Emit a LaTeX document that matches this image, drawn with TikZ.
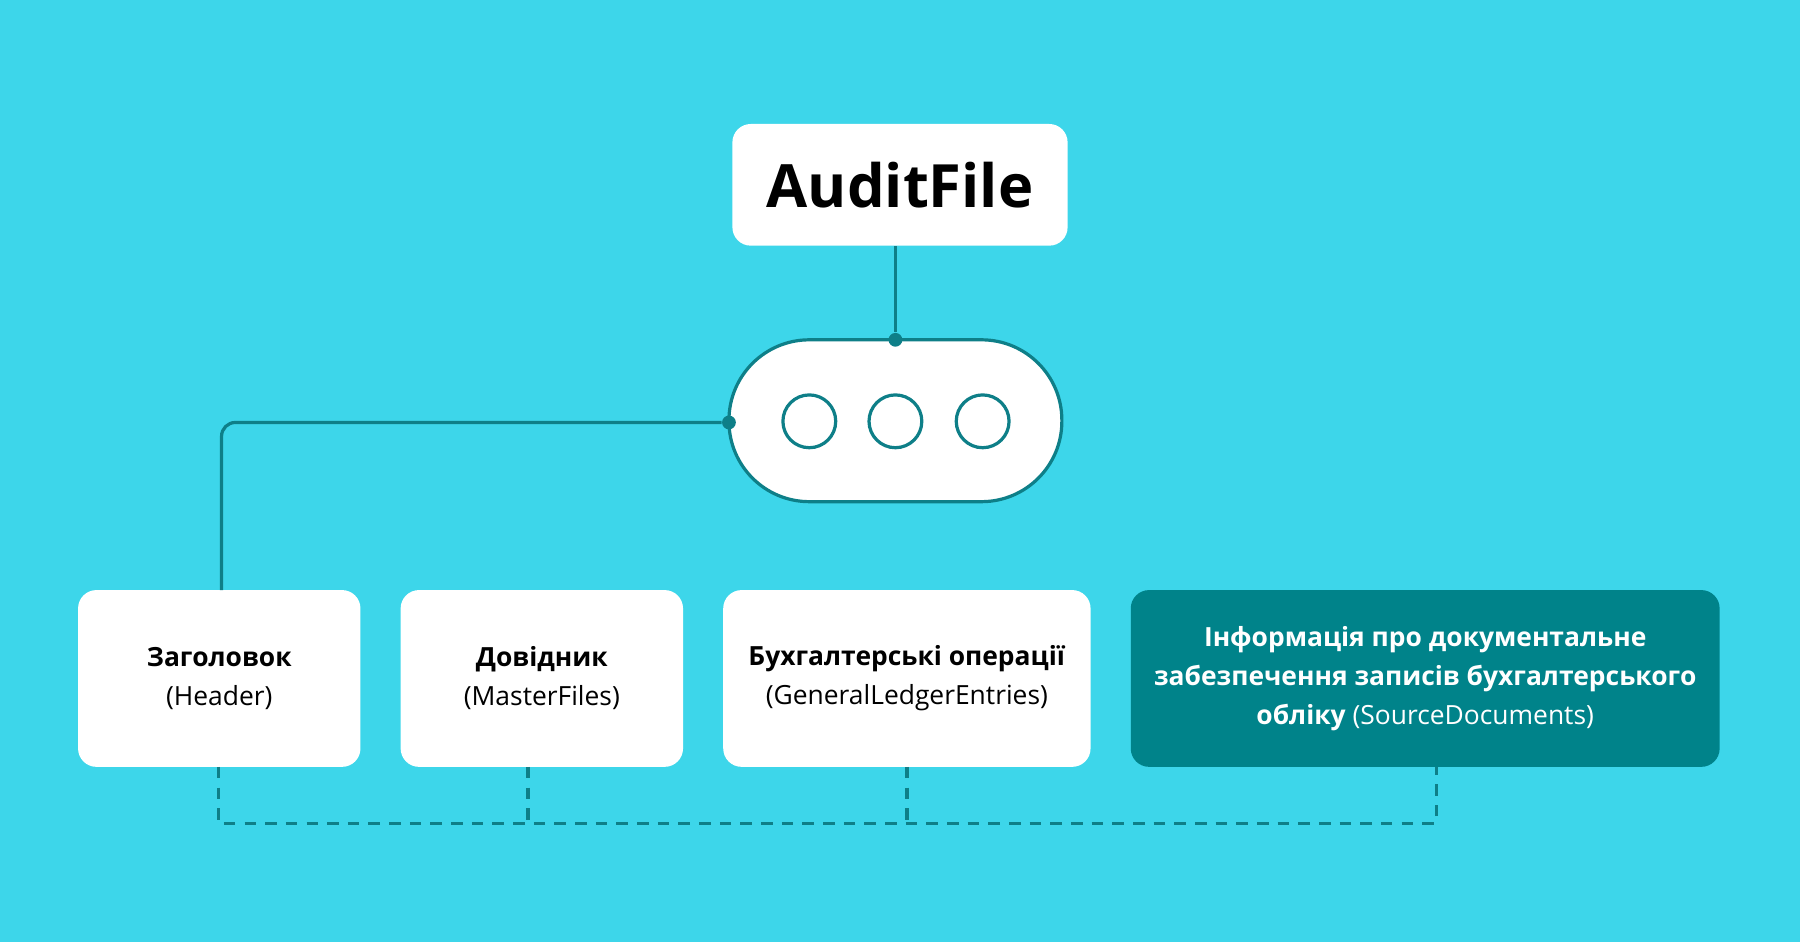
\documentclass[tikz,border=0pt]{standalone}
\usepackage{fontspec}
\setmainfont{Open Sans}
\definecolor{bg}{HTML}{3DD6EA}
\definecolor{teal}{HTML}{0E7F88}
\definecolor{tealbox}{HTML}{00838A}
\begin{document}
\begin{tikzpicture}[x=0.5pt,y=-0.5pt,
  box/.style={draw=none,fill=white,rounded corners=8pt,inner sep=0pt,align=center,font=\fontsize{11.5}{17}\selectfont},
  conn/.style={draw=teal,line width=1.4pt},
  dashed conn/.style={draw=teal,line width=1.4pt,dash pattern=on 5pt off 4pt},
  dot/.style={circle,fill=teal,inner sep=0pt,minimum size=6pt}]
\fill[bg] (0,0) rectangle (1568,821);
\useasboundingbox (0,0) rectangle (1568,821);
\node[box,minimum width=146pt,minimum height=53pt,font=\fontsize{26}{30}\selectfont\bfseries] (audit) at (784,161) {AuditFile};
\node[draw=teal,line width=1.4pt,fill=white,rounded corners=35pt,minimum width=145pt,minimum height=70.5pt] (pill) at (780,366.5) {};
\foreach \x/\n in {705/c1,780/c2,856/c3}
  \node[circle,draw=teal,line width=1.4pt,minimum size=23pt,inner sep=0pt] (\n) at (\x,367) {};
\node[dot] (d1) at (780,296) {};
\node[dot] (d2) at (635,368) {};
\draw[conn] (audit.south -| d1) -- (d1);
\node[box,minimum width=123pt,minimum height=77pt] (b1) at (191,591) {\textbf{Заголовок}\\(Header)};
\node[box,minimum width=123pt,minimum height=77pt] (b2) at (472,591) {\textbf{Довідник}\\(MasterFiles)};
\node[box,minimum width=160pt,minimum height=77pt] (b3) at (790,591) {\textbf{Бухгалтерські операції}\\(GeneralLedgerEntries)};
\node[box,fill=tealbox,text=white,minimum width=256.5pt,minimum height=77pt] (b4) at (1241.5,591) {\textbf{Інформація про документальне}\\\textbf{забезпечення записів бухгалтерського}\\\textbf{обліку} (SourceDocuments)};
\coordinate (t1) at (193,514);
\draw[conn,rounded corners=6pt] (d2) -- (193,368) -- (t1);
\coordinate (e1) at (190,717);
\coordinate (e4) at (1251,717);
\draw[dashed conn] (190,668) -- (e1) -- (e4) -- (1251,668);
\draw[dashed conn] (460,668) -- (460,717);
\draw[dashed conn] (790,668) -- (790,717);
\end{tikzpicture}
\end{document}
